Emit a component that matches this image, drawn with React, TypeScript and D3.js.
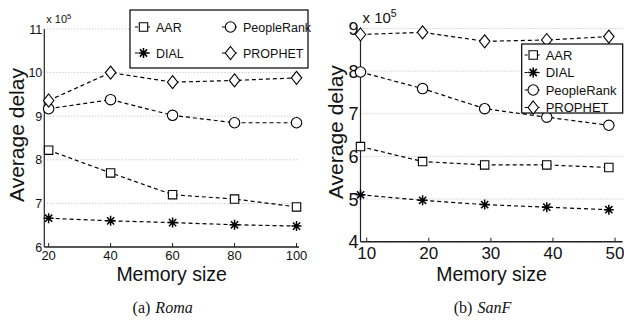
import * as d3 from 'd3';

// Roma panel
const romaMemory = [20, 40, 60, 80, 100];
const romaAAR = [8.22, 7.7, 7.2, 7.1, 6.92];
const romaDIAL = [6.66, 6.6, 6.56, 6.51, 6.48];
const romaPeopleRank = [9.17, 9.38, 9.02, 8.85, 8.85];
const romaPROPHET = [9.36, 10.0, 9.78, 9.82, 9.88];
const romaXTicks = [20, 40, 60, 80, 100];
const romaYTicks = [6, 7, 8, 9, 10, 11];

// SanF panel
const sanfMemory = [9, 19, 29, 39, 49];
const sanfAAR = [6.23, 5.88, 5.8, 5.8, 5.74];
const sanfDIAL = [5.1, 4.97, 4.87, 4.81, 4.75];
const sanfPeopleRank = [7.98, 7.59, 7.12, 6.92, 6.73];
const sanfPROPHET = [8.86, 8.91, 8.7, 8.73, 8.81];
const sanfXTicks = [10, 20, 30, 40, 50];
const sanfYTicks = [4, 5, 6, 7, 8, 9];

const seriesNames = ['AAR', 'DIAL', 'PeopleRank', 'PROPHET'];
const markerKinds = ['square', 'star', 'circle', 'diamond'];

const FONT = 'Liberation Sans, Arial, sans-serif';

function markerPath(kind: string, x: number, y: number): string {
  switch (kind) {
    case 'square': {
      const s = 4.2;
      return `M${x - s},${y - s}H${x + s}V${y + s}H${x - s}Z`;
    }
    case 'circle': {
      const r = 5.2;
      return `M${x - r},${y}a${r},${r} 0 1,0 ${2 * r},0a${r},${r} 0 1,0 ${-2 * r},0Z`;
    }
    case 'diamond': {
      const w = 5.2, h = 6.5;
      return `M${x},${y - h}L${x + w},${y}L${x},${y + h}L${x - w},${y}Z`;
    }
    default: {
      const r = 5, d = 3.6;
      return `M${x - r},${y}H${x + r}M${x},${y - r}V${y + r}M${x - d},${y - d}L${x + d},${y + d}M${x - d},${y + d}L${x + d},${y - d}`;
    }
  }
}

function Marker({ kind, x, y }: { kind: string; x: number; y: number }) {
  return (
    <path
      d={markerPath(kind, x, y)}
      fill={kind === 'star' ? 'none' : '#fff'}
      stroke="#000"
      strokeWidth={kind === 'star' ? 1.5 : 1.1}
    />
  );
}

interface PanelProps {
  xs: number[];
  series: number[][];
  xDomain: [number, number];
  yDomain: [number, number];
  left: number; right: number; top: number; bottom: number;
  xTicks: number[]; yTicks: number[];
  tickFont: number; yTickFont: number; expFont: number;
  ylabelX: number;
  legend: 'two' | 'one';
  legendBox: [number, number, number, number];
  legendFont: number;
  caption: string; captionItalic: string;
}

function Panel(p: PanelProps) {
  const x = d3.scaleLinear().domain(p.xDomain).range([p.left, p.right]);
  const y = d3.scaleLinear().domain(p.yDomain).range([p.bottom, p.top]);
  const line = d3.line<number>().x((_, i) => x(p.xs[i])).y((d) => y(d));
  const cx = (p.left + p.right) / 2;
  const [lx, ly, lw, lh] = p.legendBox;

  const legendItems = seriesNames.map((name, i) => {
    let ix: number, iy: number;
    if (p.legend === 'two') {
      ix = lx + 5 + (i >= 2 ? 87 : 0);
      iy = ly + 17 + (i % 2) * 26;
    } else {
      ix = lx + 3;
      iy = ly + 11 + i * 17.5;
    }
    return { name, kind: markerKinds[i], ix, iy };
  });

  return (
    <g>
      {/* grid */}
      {p.yTicks.map((t) => (
        <line key={'g' + t} x1={p.left} x2={p.right} y1={y(t)} y2={y(t)}
          stroke="#b8b8b8" strokeWidth={1} strokeDasharray="1,2" />
      ))}
      {/* axes */}
      <line x1={p.left} x2={p.left} y1={p.top} y2={p.bottom} stroke="#222" strokeWidth={1.2} />
      <line x1={p.left} x2={p.right} y1={p.bottom} y2={p.bottom} stroke="#222" strokeWidth={1.6} />
      {p.xTicks.map((t) => (
        <g key={'x' + t}>
          <line x1={x(t)} x2={x(t)} y1={p.bottom} y2={p.bottom - 4} stroke="#222" />
          <text x={x(t)} y={p.bottom + p.tickFont} textAnchor="middle" fontSize={p.tickFont}
            fontFamily={FONT} fill="#111">{t}</text>
        </g>
      ))}
      {p.yTicks.map((t) => (
        <text key={'y' + t} x={p.left - 2} y={y(t) + p.yTickFont * 0.36} textAnchor="end"
          fontSize={p.yTickFont} fontFamily={FONT} fill="#111">{t}</text>
      ))}
      <text x={p.left + 2} y={p.top - 6} fontSize={p.expFont} fontFamily={FONT} fill="#111">
        x 10<tspan fontSize={p.expFont * 0.7} dy={-p.expFont * 0.4}>5</tspan>
      </text>
      {/* series */}
      {p.series.map((s, i) => (
        <g key={'s' + i}>
          <path d={line(s) ?? ''} fill="none" stroke="#000" strokeWidth={1.2} strokeDasharray="4,3" />
          {s.map((v, j) => <Marker key={j} kind={markerKinds[i]} x={x(p.xs[j])} y={y(v)} />)}
        </g>
      ))}
      {/* labels */}
      <text transform={`translate(${p.ylabelX},${(p.top + p.bottom) / 2 - 3}) rotate(-90)`} textAnchor="middle"
        fontSize={21} fontFamily={FONT} fill="#111">Average delay</text>
      <text x={cx} y={281} textAnchor="middle" fontSize={19.5} fontFamily={FONT} fill="#111">Memory size</text>
      <text x={cx - 9} y={313} textAnchor="middle" fontSize={16} fontFamily="Liberation Serif, Times New Roman, serif" fill="#111">
        {p.caption}<tspan fontStyle="italic" dx={5}>{p.captionItalic}</tspan>
      </text>
      {/* legend */}
      <rect x={lx} y={ly} width={lw} height={lh} fill="#fff" stroke="#000" strokeWidth={1.2} />
      {legendItems.map((it) => (
        <g key={it.name}>
          <line x1={it.ix} x2={it.ix + 17} y1={it.iy} y2={it.iy} stroke="#000" strokeWidth={1.1} strokeDasharray="3,3" />
          <Marker kind={it.kind} x={it.ix + 8.5} y={it.iy} />
          <text x={it.ix + 21} y={it.iy + p.legendFont * 0.36} fontSize={p.legendFont} fontFamily={FONT} fill="#111">{it.name}</text>
        </g>
      ))}
    </g>
  );
}

export default function App() {
  return (
    <svg width={624} height={323} style={{ position: 'absolute', left: 0, top: 0, background: '#fff' }}>
      <rect width={624} height={323} fill="#fff" />
      <Panel
        xs={romaMemory}
        series={[romaAAR, romaDIAL, romaPeopleRank, romaPROPHET]}
        xDomain={[18.6, 100.8]} yDomain={[6, 11]}
        left={44.3} right={299} top={29} bottom={247}
        xTicks={romaXTicks} yTicks={romaYTicks}
        tickFont={13} yTickFont={12.5} expFont={11}
        ylabelX={24}
        legend="two" legendBox={[130, 10, 178, 58]} legendFont={12.5}
        caption="(a)" captionItalic="Roma"
      />
      <Panel
        xs={sanfMemory}
        series={[sanfAAR, sanfDIAL, sanfPeopleRank, sanfPROPHET]}
        xDomain={[9, 51.2]} yDomain={[4, 9]}
        left={360.5} right={622.5} top={28.5} bottom={241.7}
        xTicks={sanfXTicks} yTicks={sanfYTicks}
        tickFont={17} yTickFont={18} expFont={15}
        ylabelX={343}
        legend="one" legendBox={[521.7, 44, 101, 69]} legendFont={13}
        caption="(b)" captionItalic="SanF"
      />
    </svg>
  );
}
